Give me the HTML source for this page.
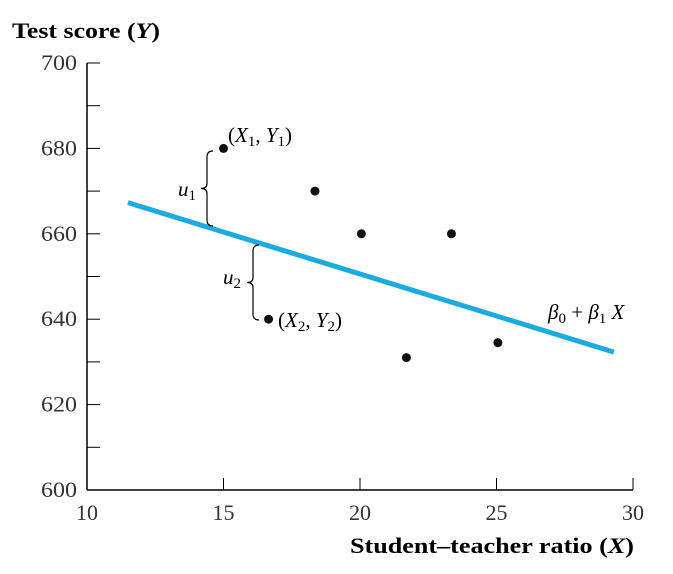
<!DOCTYPE html>
<html><head><meta charset="utf-8"><style>
html,body{margin:0;padding:0;background:#fff;}
svg{display:block;font-family:"Liberation Serif",serif;}
</style></head><body>
<svg id="chart" width="673" height="574" viewBox="0 0 673 574"></svg>
<script>
const xTicks=[10,15,20,25,30];
const yTicks=[600,620,640,660,680,700];
const ptX=[15,16.65,18.35,20.05,21.7,23.35,25.05];
const ptY=[680,640,670,660,631,660,634.5];
const lineX=[11.5,29.3];
const lineY=[667.3,632.3];
const NS="http://www.w3.org/2000/svg";
const svg=document.getElementById('chart');
const X=v=>87+(v-10)*27.3;
const Y=v=>490-(v-600)*4.27;
function mk(t,a,p){const e=document.createElementNS(NS,t);for(const k in a)e.setAttribute(k,a[k]);(p||svg).appendChild(e);return e;}
let e;
e=mk('line',{x1:87,y1:Y(700),x2:87,y2:490,stroke:'#000','stroke-width':1.5});


e=mk('line',{x1:87,y1:490,x2:X(30),y2:490,stroke:'#000','stroke-width':1.5});


for(let v=600;v<=700;v+=10){
 e=mk('line',{x1:87,y1:Y(v),x2:100,y2:Y(v),stroke:'#000','stroke-width':1});
 
 
}
yTicks.forEach(v=>{
 e=mk('text',{x:77,y:Y(v)+7,'text-anchor':'end','font-size':22,fill:'#333',textLength:36,lengthAdjust:'spacingAndGlyphs'});e.textContent=v;
 
 
});
xTicks.forEach(v=>{
 if(v>10){e=mk('line',{x1:X(v),y1:490,x2:X(v),y2:478,stroke:'#000','stroke-width':1});
 
 }
 e=mk('text',{x:X(v),y:520,'text-anchor':'middle','font-size':22,fill:'#333'});e.textContent=v;
 
 
});
e=mk('text',{x:12,y:38,'font-size':22,'font-weight':'bold',textLength:148,lengthAdjust:'spacingAndGlyphs'});e.innerHTML='Test score (<tspan font-style="italic">Y</tspan>)';


e=mk('text',{x:350,y:553,'font-size':22,'font-weight':'bold',textLength:284,lengthAdjust:'spacingAndGlyphs'});e.innerHTML='Student–teacher ratio (<tspan font-style="italic">X</tspan>)';


e=mk('line',{x1:X(lineX[0]),y1:Y(lineY[0]),x2:X(lineX[1]),y2:Y(lineY[1]),stroke:'#1aace0','stroke-width':5});


ptX.forEach((v,i)=>{
 e=mk('circle',{cx:X(v),cy:Y(ptY[i]),r:4.5,fill:'#111'});
 
 
});
function brace(x,y1,y2){const m=(y1+y2)/2;return `M${x+6},${y1} Q${x},${y1} ${x},${y1+6} L${x},${m-5} Q${x},${m} ${x-6},${m} Q${x},${m} ${x},${m+5} L${x},${y2-6} Q${x},${y2} ${x+6},${y2}`;}
e=mk('path',{d:brace(207,151,226),fill:'none',stroke:'#000','stroke-width':1.2});


e=mk('path',{d:brace(253,245,320),fill:'none',stroke:'#000','stroke-width':1.2});


const labels=[
 [178,196,'<tspan font-style="italic">u</tspan><tspan font-size="15" dy="4">1</tspan>','label-u1'],
 [223,284,'<tspan font-style="italic">u</tspan><tspan font-size="15" dy="4">2</tspan>','label-u2'],
 [228,142,'(<tspan font-style="italic">X</tspan><tspan font-size="15" dy="4">1</tspan><tspan dy="-4">, </tspan><tspan font-style="italic">Y</tspan><tspan font-size="15" dy="4">1</tspan><tspan dy="-4">)</tspan>','label-point-1'],
 [278,327,'(<tspan font-style="italic">X</tspan><tspan font-size="15" dy="4">2</tspan><tspan dy="-4">, </tspan><tspan font-style="italic">Y</tspan><tspan font-size="15" dy="4">2</tspan><tspan dy="-4">)</tspan>','label-point-2'],
 [548,319,'<tspan font-style="italic">β</tspan><tspan font-size="15" dy="4">0</tspan><tspan dy="-4"> + </tspan><tspan font-style="italic">β</tspan><tspan font-size="15" dy="4">1</tspan><tspan dy="-4" font-style="italic"> X</tspan>','label-regression']
];
labels.forEach(l=>{
 e=mk('text',{x:l[0],y:l[1],'font-size':21});e.innerHTML=l[2];
 
 
});
</script>
</body></html>
